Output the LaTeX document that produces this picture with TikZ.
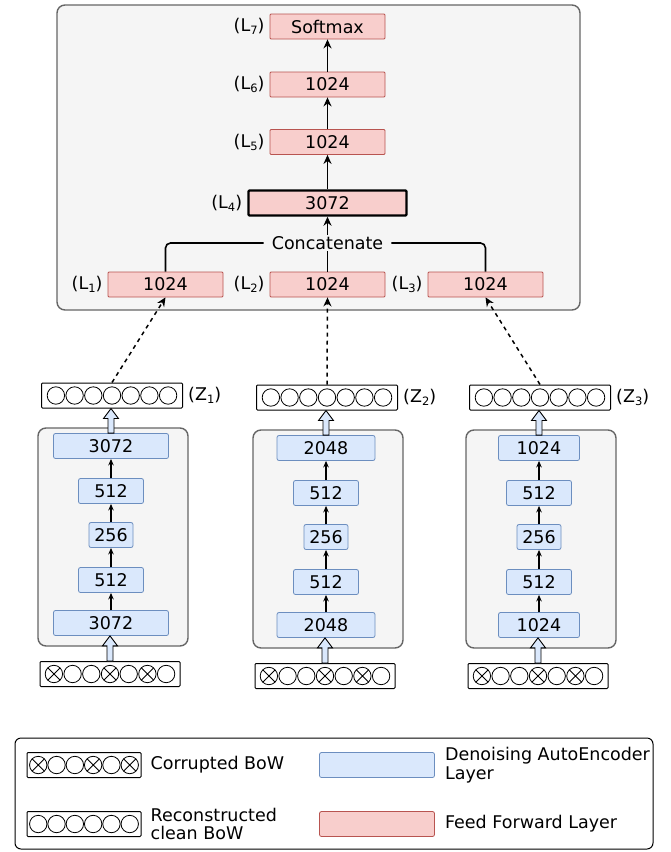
\documentclass[tikz,border=0pt]{standalone}
\usepackage{fontspec}
\setmainfont{DejaVu Sans}
\usetikzlibrary{positioning,calc,arrows.meta}

\definecolor{aefill}{HTML}{DAE8FC}
\definecolor{aeline}{HTML}{6C8EBF}
\definecolor{fffill}{HTML}{F8CECC}
\definecolor{ffline}{HTML}{B85450}
\definecolor{panelfill}{HTML}{F5F5F5}
\definecolor{panelline}{HTML}{666666}

\newcommand{\lsub}[1]{\raisebox{-3pt}{\fontsize{11.5}{11.5}\selectfont #1}}
% dots of a bag of words: box, number of dots, spacing
\newcommand{\bowrow}[3]{%
  \foreach \i in {1,...,#2}
    \draw[line width=0.8pt] ($(#1.center)+({(\i-(#2+1)/2)*#3},0)$) circle (8.7pt);}
% crossed dots: box, number of dots, spacing, list
\newcommand{\bowcross}[4]{%
  \foreach \i in {#4}
    \draw[line width=0.9pt] ($(#1.center)+({(\i-(#2+1)/2)*#3},0)$) ++(-6.2,-6.2) -- ++(12.4,12.4) ++(0,-12.4) -- ++(-12.4,12.4);}
% hollow block arrow, tail to tip
\newcommand{\blockup}[2]{%
  \draw[blockarr] ($(#1)+(-3,0)$) -- ($(#1 |- #2)+(-3,10)$) -- ($(#1 |- #2)+(-7.5,10)$) -- (#1 |- #2)
    -- ($(#1 |- #2)+(7.5,10)$) -- ($(#1 |- #2)+(3,10)$) -- ($(#1)+(3,0)$) -- cycle;}

\tikzset{
  ff/.style={draw=ffline, fill=fffill, line width=0.8pt, minimum width=115pt, minimum height=25pt, inner sep=0pt, rounded corners=1pt},
  ae/.style={draw=aeline, fill=aefill, line width=0.8pt, minimum height=25pt, inner sep=0pt, rounded corners=2pt},
  panel/.style={draw=panelline, fill=panelfill, line width=1.4pt, rounded corners=8pt},
  bow/.style={draw, fill=white, line width=1pt, minimum width=141pt, minimum height=25pt, inner sep=0pt, rounded corners=1pt},
  up/.style={-{Stealth[length=9pt,width=8pt]}, line width=1.7pt},
  aeup/.style={-{Stealth[length=6.5pt,width=5.5pt]}, line width=1.1pt},
  dashlink/.style={-{Stealth[length=9pt,width=8pt]}, line width=1.5pt, dash pattern=on 4pt off 4pt},
  blockarr/.style={draw=black, fill=aefill, line width=0.9pt},
}

\begin{document}
\begin{tikzpicture}[x=1pt, y=-1pt, font=\fontsize{17.5}{18.5}\selectfont]
\useasboundingbox (0,0) rectangle (670,852);

% classifier
\draw[panel] (57,5) rectangle (580,310);
\node[ff] (l7) at (327.5,26.5) {Softmax};
\node[ff] (l6) at (327.5,84.5) {1024};
\node[ff] (l5) at (327.5,142) {1024};
\node[ff, draw=black, line width=2.4pt, minimum width=158pt] (l4) at (327.5,203) {3072};
\node[inner xsep=8pt, inner ysep=1pt] (cat) at (327.5,243) {Concatenate};
\node[ff] (l1) at (165.5,284.5) {1024};
\node[ff] (l2) at (327.5,284.5) {1024};
\node[ff] (l3) at (485.5,284.5) {1024};
\foreach \n in {1,...,7}
  \node[left=5pt of l\n, inner sep=0pt] {(L\lsub{\n})};

\draw[line width=1.6pt, rounded corners=5pt] (l1.north) |- (cat.west);
\draw[line width=1.6pt, rounded corners=5pt] (l3.north) |- (cat.east);
\draw[line width=1.6pt] (l2.north) -- (cat.south);
\draw[up] (cat.north) -- (l4.south);
\draw[up] (l4.north) -- (l5.south);
\draw[up] (l5.north) -- (l6.south);
\draw[up] (l6.north) -- (l7.south);

% denoising autoencoders
\foreach \c/\x/\dy/\w/\n in {1/111/0/115/3072, 2/326/2/98/2048, 3/539/2/81/1024}{
  \draw[panel] (\x-73,428+\dy) rectangle (\x+77,646+\dy);
  \node[ae, minimum width=\w pt] (ae\c1) at (\x,446+\dy) {\n};
  \node[ae, minimum width=65pt] (ae\c2) at (\x,491+\dy) {512};
  \node[ae, minimum width=44pt] (ae\c3) at (\x,535+\dy) {256};
  \node[ae, minimum width=65pt] (ae\c4) at (\x,580+\dy) {512};
  \node[ae, minimum width=\w pt] (ae\c5) at (\x,623+\dy) {\n};
  \draw[aeup] (ae\c5.north) -- (ae\c4.south);
  \draw[aeup] (ae\c4.north) -- (ae\c3.south);
  \draw[aeup] (ae\c3.north) -- (ae\c2.south);
  \draw[aeup] (ae\c2.north) -- (ae\c1.south);

  \node[bow] (z\c) at (\x+1,395.5+\dy) {};
  \bowrow{z\c}{7}{18.7}
  \node[right=5pt of z\c, inner sep=0pt] {(Z\lsub{\c})};

  \node[bow, minimum width=140pt] (in\c) at (\x-1,674+\dy) {};
  \bowrow{in\c}{7}{18.7}
  \bowcross{in\c}{7}{18.7}{1,4,6}

  \blockup{in\c.north}{ae\c5.south}
  \blockup{ae\c1.north}{z\c.south}
}

\draw[dashlink] (z1.north) -- (l1.south);
\draw[dashlink] (z2.north) -- (l2.south);
\draw[dashlink] (z3.north) -- (l3.south);

% legend
\draw[line width=1pt, rounded corners=6pt] (15,738) rectangle (653,849);
\node[bow, minimum width=114pt] (lgcor) at (84,765) {};
\bowrow{lgcor}{6}{18.3}
\bowcross{lgcor}{6}{18.3}{1,4,6}
\node[right=9pt of lgcor, inner sep=0pt] {Corrupted BoW};
\node[bow, minimum width=114pt] (lgrec) at (84,824) {};
\bowrow{lgrec}{6}{18.3}
\node[right=9pt of lgrec, inner sep=0pt, align=left] {Reconstructed\\clean BoW};
\node[ae, minimum width=115pt] (lgae) at (377,765) {};
\node[right=10pt of lgae, inner sep=0pt, align=left] {Denoising AutoEncoder\\Layer};
\node[ff, rounded corners=2pt] (lgff) at (377,824) {};
\node[right=10pt of lgff, inner sep=0pt] {Feed Forward Layer};
\end{tikzpicture}
\end{document}
